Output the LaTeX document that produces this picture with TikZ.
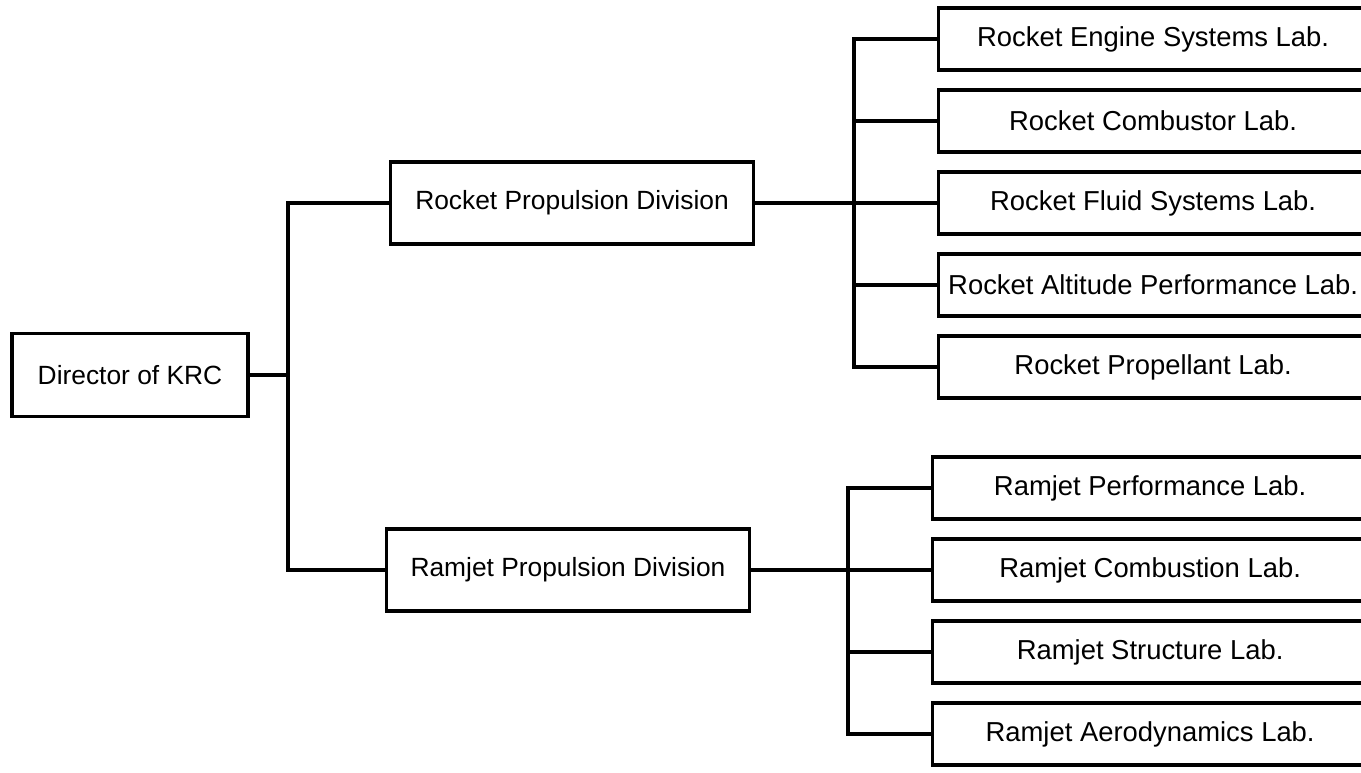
\documentclass[tikz,border=0pt]{standalone}
\usepackage{fontspec}
\setmainfont{Liberation Sans}

\begin{document}
\begin{tikzpicture}[x=0.02cm, y=-0.02cm]

% Define styles
\tikzstyle{box}=[draw, line width=1.9pt, font=\fontsize{15}{18}\selectfont, inner sep=0pt]
\tikzstyle{division}=[box, minimum width=7.26cm, minimum height=1.64cm]
\tikzstyle{lab}=[box, anchor=west, minimum height=1.24cm, font=\fontsize{15.6}{18}\selectfont]
\tikzstyle{link}=[line width=1.8pt]

% Frame (lab boxes run off the right edge)
\useasboundingbox (0,0) rectangle (1361,772);
\clip (0,0) rectangle (1361,772);

% Parameters
\def\trunk{288}
\def\rbus{854}
\def\jbus{848}

% Director and divisions
\node[box, minimum width=4.72cm, minimum height=1.66cm] (dir) at (130,375) {Director of KRC};
\node[division] (rpd) at (572,203) {Rocket Propulsion Division};
\node[division] (jpd) at (568,570) {Ramjet Propulsion Division};

% Rocket labs
\foreach \y/\txt [count=\i] in {
  39/Rocket Engine Systems Lab.,
  121/Rocket Combustor Lab.,
  203/Rocket Fluid Systems Lab.,
  285/Rocket Altitude Performance Lab.,
  367/Rocket Propellant Lab.
}
{
  \node[lab, minimum width=8.58cm] (rl\i) at (937,\y) {\txt};
}

% Ramjet labs
\foreach \y/\txt [count=\i] in {
  488/Ramjet Performance Lab.,
  570/Ramjet Combustion Lab.,
  652/Ramjet Structure Lab.,
  734/Ramjet Aerodynamics Lab.
}
{
  \node[lab, minimum width=8.70cm] (jl\i) at (931,\y) {\txt};
}

% Director to divisions
\coordinate (dtrunk) at (\trunk,375);
\draw[link] (dir) -- (dtrunk);
\draw[link] (rpd.west) -| (dtrunk) |- (jpd.west);

% Rocket division to labs
\coordinate (rjoin) at (\rbus,203);
\draw[link] (rpd) -- (rjoin);
\foreach \i in {1,...,5} {
  \draw[link] (rl\i.west) -| (rjoin);
}

% Ramjet division to labs
\coordinate (jjoin) at (\jbus,570);
\draw[link] (jpd) -- (jjoin);
\foreach \i in {1,...,4} {
  \draw[link] (jl\i.west) -| (jjoin);
}

\end{tikzpicture}
\end{document}
